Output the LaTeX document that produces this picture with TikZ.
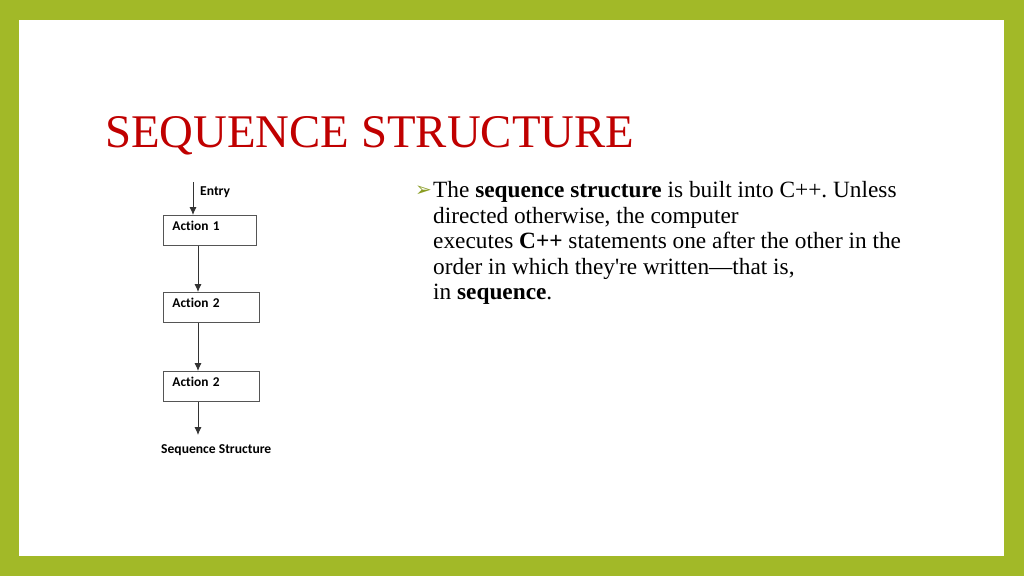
\documentclass[tikz,border=0pt]{standalone}
\usepackage{fontspec}
\setmainfont{Liberation Serif}
\newfontfamily\chartfont[Ligatures=NoCommon]{Carlito}
\newfontfamily\symfont{DejaVu Sans}
\usetikzlibrary{arrows.meta,positioning}
\definecolor{slidegreen}{RGB}{162,185,40}
\definecolor{titlered}{RGB}{192,0,0}
\definecolor{boxgray}{RGB}{85,85,85}
\tikzset{
    action/.style={draw=boxgray,line width=0.9pt,anchor=north west,inner xsep=9pt,inner ysep=0pt,
        text width=#1,align=left,text height=15.5pt,text depth=14.5pt,
        font=\chartfont\bfseries\fontsize{13.4}{14}\selectfont},
    flow/.style={draw=black!80,line width=0.9pt,-{Latex[length=8pt,width=7pt]}},
    chartlabel/.style={font=\chartfont\bfseries\fontsize{13.6}{14}\selectfont,inner sep=0pt}
}

\begin{document}
\frenchspacing
\begin{tikzpicture}[x=1pt,y=-1pt]
    \fill[slidegreen] (0,0) rectangle (1024,576);
    \fill[white] (19,20) rectangle (1004,556);

    % title
    \node[anchor=base west,inner sep=0pt,text=titlered,font=\fontsize{46.8}{50}\selectfont] (title) at (105,147) {SEQUENCE STRUCTURE};

    % flowchart
    \coordinate (entrytop) at (193,182);
    \coordinate (col) at (198,0);
    \node[action=75pt] (act1) at (163,215) {Action 1};
    \node[action=78pt] (act2) at (163,292) {Action 2};
    \node[action=78pt] (act3) at (163,371) {Action 2};
    \coordinate (exit) at (198,435);
    \node[chartlabel,anchor=west] (entry) at (200,192) {Entry};
    \node[chartlabel,anchor=west] (caption) at (161,450) {Sequence Structure};

    \draw[flow] (entrytop) -- (entrytop |- act1.north);
    \draw[flow] (act1.south -| col) -- (act2.north -| col);
    \draw[flow] (act2.south -| col) -- (act3.north -| col);
    \draw[flow] (act3.south -| col) -- (exit);

    % bullet text
    \node[anchor=base west,inner sep=0pt,text=slidegreen!85!black,font=\symfont\fontsize{20}{21}\selectfont] (bullet) at (415,196) {➢};
    \node[anchor=north west,inner sep=0pt,align=left,font=\fontsize{23.3}{25.5}\selectfont] (body) at (433,181.3)
        {The \textbf{sequence structure} is built into C++. Unless\\
         directed otherwise, the computer\\
         executes \textbf{C++} statements one after the other in the\\
         order in which they\textquotesingle re written---that is,\\
         in \textbf{sequence}.};
\end{tikzpicture}
\end{document}
